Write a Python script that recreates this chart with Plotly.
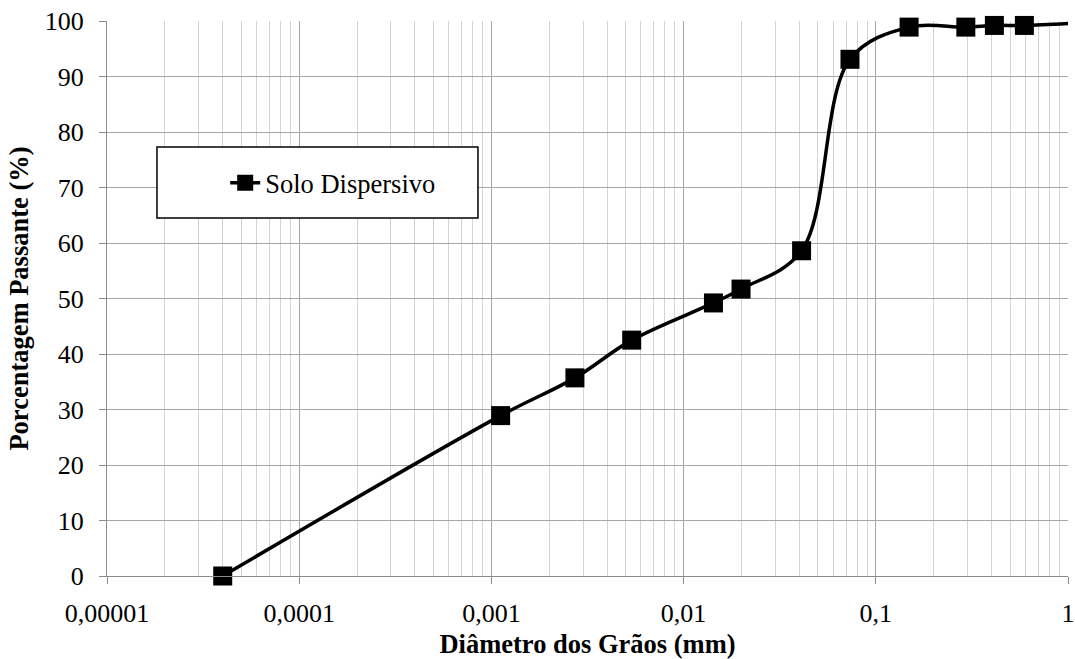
import plotly.graph_objects as go

diam_mm = [0.00004, 0.001117, 0.00272, 0.00537, 0.0143, 0.0199, 0.0411, 0.0734, 0.149, 0.294, 0.414, 0.593, 1.18]
passing_pct = [0.0, 28.9, 35.7, 42.5, 49.2, 51.7, 58.6, 93.1, 98.9, 98.9, 99.2, 99.2, 99.7]
series_name = "Solo Dispersivo"
x_tickvals = [0.00001, 0.0001, 0.001, 0.01, 0.1, 1]
x_ticktext = ["0,00001", "0,0001", "0,001", "0,01", "0,1", "1"]
y_tickvals = [0, 10, 20, 30, 40, 50, 60, 70, 80, 90, 100]

FONT = "Liberation Serif"

fig = go.Figure()
fig.add_trace(go.Scatter(
    x=diam_mm, y=passing_pct, name=series_name,
    mode="lines+markers", cliponaxis=False,
    line=dict(color="black", width=3.5, shape="spline", smoothing=1.0),
    marker=dict(symbol="square", size=19, color="black"),
))

fig.update_layout(
    width=1075, height=659,
    margin=dict(l=107, r=7, t=21, b=83),
    paper_bgcolor="white", plot_bgcolor="white",
    font=dict(family=FONT, size=26, color="black"),
    showlegend=True,
    legend=dict(x=0.123, y=0.708, xanchor="left", yanchor="middle",
                bgcolor="rgba(0,0,0,0)", borderwidth=0,
                font=dict(family=FONT, size=26.5, color="black")),
    shapes=[dict(type="rect", xref="paper", yref="paper",
                 x0=0.052, x1=0.386, y0=0.645, y1=0.773,
                 line=dict(color="black", width=1.5), fillcolor="white",
                 layer="above")],
)

fig.update_xaxes(
    type="log", range=[-5, 0], automargin=False,
    tickmode="array", tickvals=x_tickvals, ticktext=x_ticktext,
    tickfont=dict(family=FONT, size=26, color="black"),
    showgrid=True, gridcolor="#a6a6a6", gridwidth=1,
    minor=dict(dtick="D1", showgrid=True, gridcolor="#d4d4d4", gridwidth=1, ticks=""),
    ticks="outside", ticklen=7, tickcolor="#8c8c8c",
    showline=True, linecolor="#8c8c8c", linewidth=1,
    zeroline=False,
    ticklabelstandoff=7,
    title=dict(text="<b>Diâmetro dos Grãos (mm)</b>", font=dict(family=FONT, size=26.5, color="black"), standoff=10),
)
fig.update_yaxes(
    range=[0, 100], tickmode="array", tickvals=y_tickvals, automargin=False,
    tickfont=dict(family=FONT, size=26, color="black"),
    showgrid=True, gridcolor="#a6a6a6", gridwidth=1,
    ticks="outside", ticklen=7, tickcolor="#8c8c8c",
    showline=True, linecolor="#8c8c8c", linewidth=1,
    zeroline=False,
    ticklabelstandoff=10,
    title=dict(text="<b>Porcentagem Passante (%)</b>", font=dict(family=FONT, size=26.5, color="black"), standoff=8),
)

fig.write_html("out.html")
